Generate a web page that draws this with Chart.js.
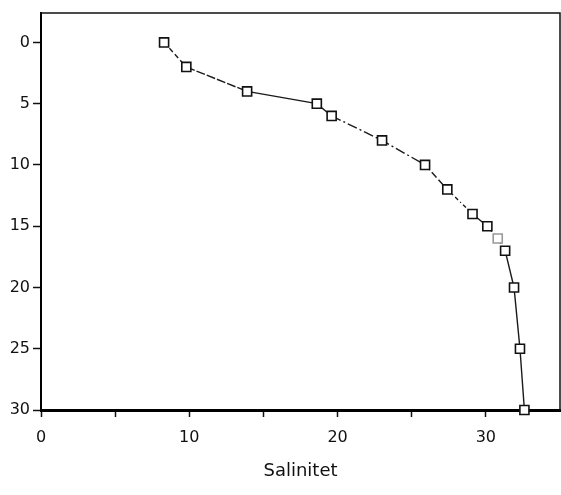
<!DOCTYPE html>
<html>
<head>
<meta charset="utf-8">
<script src="https://cdn.jsdelivr.net/npm/chart.js@4/dist/chart.umd.min.js"></script>
<style>
  html, body { margin: 0; padding: 0; background: #fff; }
  #wrap { width: 561px; height: 495px; position: relative; }
</style>
</head>
<body>
<div id="wrap"><canvas id="c"></canvas></div>
<script>
// Salinity profile: depth (m) against salinity
const depth    = [0, 2, 4, 5, 6, 8, 10, 12, 14, 15, 16, 17, 20, 25, 30];
const salinity = [8.3, 9.8, 13.9, 18.6, 19.6, 23.0, 25.9, 27.4, 29.1, 30.1, 30.8, 31.3, 31.9, 32.3, 32.6];
const depthTicks = [0, 5, 10, 15, 20, 25, 30];
const salTicks   = [0, 5, 10, 15, 20, 25, 30];
const salLabels  = [0, 10, 20, 30];
const xTitle = 'Salinitet';

// line pattern for each segment between consecutive samples
const segDash = [[5,3],[9,2],[],[],[10,3,2,3],[10,3,2,3],[7,3],[4,3,1,3],[],[2,3],[2,3],[],[],[]];

const points = depth.map((d, i) => ({ x: salinity[i], y: d }));

const frame = {
  id: 'frame',
  afterDraw(chart) {
    const { ctx, chartArea: a } = chart;
    ctx.save();
    ctx.strokeStyle = '#111';
    ctx.lineWidth = 1.5;
    ctx.beginPath();
    ctx.moveTo(a.left, a.top);
    ctx.lineTo(a.right, a.top);
    ctx.lineTo(a.right, a.bottom);
    ctx.stroke();
    ctx.restore();
  }
};

const font = { family: 'DejaVu Sans', size: 16 };

new Chart(document.getElementById('c'), {
  type: 'scatter',
  data: {
    datasets: [{
      data: points,
      showLine: true,
      clip: false,
      borderColor: '#1a1a1a',
      borderWidth: 1.4,
      pointStyle: 'rect',
      pointRadius: 6.4,
      pointBorderWidth: 1.6,
      pointBackgroundColor: '#fff',
      pointBorderColor: ctx => ctx.dataIndex === 10 ? '#999' : '#111',
      segment: {
        borderDash: ctx => segDash[ctx.p0DataIndex] || []
      }
    }]
  },
  options: {
    responsive: true,
    maintainAspectRatio: false,
    animation: false,
    layout: { autoPadding: false, padding: { top: 13, right: 1, left: 0, bottom: 0 } },
    plugins: { legend: { display: false }, tooltip: { enabled: false } },
    scales: {
      x: {
        type: 'linear',
        min: 0,
        max: 35,
        afterBuildTicks: s => { s.ticks = salTicks.map(v => ({ value: v })); },
        afterFit: s => { s.height = 85; },
        border: { display: true, color: '#000', width: 3 },
        grid: { display: true, drawOnChartArea: false, drawTicks: true, tickLength: 7, tickWidth: 1.5, tickColor: '#111' },
        ticks: {
          color: '#111',
          font: font,
          padding: 11,
          maxRotation: 0,
          autoSkip: false,
          callback: v => salLabels.includes(v) ? String(v) : ''
        },
        title: {
          display: true,
          text: xTitle,
          color: '#111',
          font: { family: 'DejaVu Sans', size: 18 },
          padding: { top: 0, bottom: 13 }
        }
      },
      y: {
        type: 'linear',
        reverse: true,
        min: -2.4,
        max: 30,
        afterBuildTicks: s => { s.ticks = depthTicks.map(v => ({ value: v })); },
        afterFit: s => { s.width = 41; },
        border: { display: true, color: '#000', width: 2 },
        grid: { display: true, drawOnChartArea: false, drawTicks: true, tickLength: 8, tickWidth: 1.5, tickColor: '#111' },
        ticks: {
          color: '#111',
          font: font,
          padding: 3,
          autoSkip: false,
          callback: v => String(v)
        }
      }
    }
  },
  plugins: [frame]
});
</script>
</body>
</html>
